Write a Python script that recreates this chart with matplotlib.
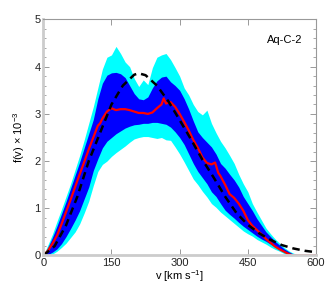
import numpy as np
import matplotlib
matplotlib.use("Agg")
import matplotlib.pyplot as plt

plt.rcParams['font.family'] = ['Liberation Sans', 'DejaVu Sans']
plt.rcParams['mathtext.fontset'] = 'custom'
plt.rcParams['mathtext.rm'] = 'Liberation Sans'
plt.rcParams['mathtext.default'] = 'rm'

# velocidad [km/s], rejilla comun para las bandas
v_band = np.arange(0, 610, 10)

# banda exterior (cian)
cyan_hi = [0.0, 0.22, 0.45, 0.72, 0.98, 1.25, 1.52, 1.82, 2.12, 2.45,
           2.80, 3.15, 3.55, 3.95, 4.20, 4.25, 4.43, 4.28, 4.10, 4.00,
           3.75, 3.58, 3.72, 3.62, 3.98, 4.20, 4.25, 4.28, 4.15, 3.98,
           3.80, 3.55, 3.40, 3.20, 3.05, 2.98, 3.08, 2.80, 2.60, 2.42,
           2.28, 2.12, 1.95, 1.72, 1.52, 1.35, 1.10, 0.92, 0.75, 0.58,
           0.46, 0.35, 0.26, 0.17, 0.10, 0.05, 0.02, 0.0, 0.0, 0.0, 0.0]
cyan_lo = [0.0, 0.0, 0.03, 0.09, 0.17, 0.26, 0.38, 0.50, 0.67, 0.90,
           1.15, 1.48, 1.78, 1.93, 2.00, 2.10, 2.18, 2.25, 2.32, 2.40,
           2.47, 2.50, 2.52, 2.52, 2.50, 2.48, 2.50, 2.45, 2.44, 2.30,
           2.15, 1.98, 1.80, 1.62, 1.50, 1.36, 1.24, 1.10, 1.02, 0.92,
           0.84, 0.76, 0.68, 0.60, 0.52, 0.46, 0.41, 0.34, 0.29, 0.24,
           0.18, 0.13, 0.09, 0.04, 0.01, 0.0, 0.0, 0.0, 0.0, 0.0, 0.0]

# banda interior (azul)
blue_hi = [0.0, 0.17, 0.38, 0.62, 0.88, 1.14, 1.42, 1.70, 1.98, 2.28,
           2.58, 2.88, 3.32, 3.65, 3.82, 3.87, 3.88, 3.85, 3.77, 3.60,
           3.43, 3.32, 3.30, 3.36, 3.55, 3.70, 3.78, 3.80, 3.68, 3.60,
           3.50, 3.32, 3.10, 2.85, 2.62, 2.50, 2.40, 2.30, 2.15, 1.95,
           1.85, 1.72, 1.60, 1.45, 1.25, 1.10, 0.95, 0.78, 0.64, 0.50,
           0.40, 0.30, 0.22, 0.14, 0.08, 0.03, 0.0, 0.0, 0.0, 0.0, 0.0]
blue_lo = [0.0, 0.02, 0.07, 0.14, 0.25, 0.40, 0.57, 0.75, 0.95, 1.20,
           1.45, 1.80, 2.05, 2.28, 2.42, 2.50, 2.58, 2.64, 2.70, 2.74,
           2.77, 2.78, 2.80, 2.80, 2.82, 2.82, 2.80, 2.78, 2.72, 2.62,
           2.50, 2.35, 2.15, 1.95, 1.78, 1.65, 1.52, 1.35, 1.25, 1.10,
           0.96, 0.87, 0.79, 0.70, 0.62, 0.55, 0.48, 0.41, 0.35, 0.30,
           0.24, 0.18, 0.13, 0.08, 0.04, 0.01, 0.0, 0.0, 0.0, 0.0, 0.0]

# mediana (roja)
v_med = [0, 10, 20, 30, 40, 50, 60, 70, 80, 90, 100, 110, 120, 125, 130,
         140, 150, 160, 170, 180, 190, 200, 210, 220, 230, 240, 250, 260,
         265, 270, 280, 290, 300, 310, 320, 330, 340, 350, 360, 370, 378,
         385, 390, 400, 410, 420, 430, 440, 450, 460, 470, 480, 490, 500,
         510, 520, 530, 540, 550, 600]
f_med = [0.0, 0.10, 0.25, 0.42, 0.66, 0.92, 1.18, 1.45, 1.72, 1.98, 2.25,
         2.50, 2.75, 2.80, 2.90, 3.05, 3.12, 3.08, 3.10, 3.10, 3.08, 3.05,
         3.02, 3.02, 3.00, 3.03, 3.12, 3.20, 3.33, 3.22, 3.25, 3.15, 3.00,
         2.83, 2.65, 2.45, 2.28, 2.08, 1.96, 1.93, 1.97, 1.75, 1.68, 1.50,
         1.30, 1.22, 1.10, 0.95, 0.75, 0.63, 0.54, 0.45, 0.35, 0.27, 0.19,
         0.13, 0.08, 0.03, 0.0, 0.0]

# modelo (linea discontinua)
v_mod = [0, 25, 50, 75, 100, 125, 150, 175, 200, 210, 225, 250, 275, 300,
         325, 350, 375, 400, 425, 450, 475, 500, 525, 550, 575, 600]
f_mod = [0.0, 0.20, 0.64, 1.25, 2.00, 2.60, 3.20, 3.60, 3.83, 3.86, 3.82,
         3.60, 3.27, 2.87, 2.46, 2.03, 1.65, 1.25, 0.90, 0.65, 0.47, 0.33,
         0.22, 0.15, 0.10, 0.07]

fig = plt.figure(figsize=(3.32, 2.95), dpi=100)
ax = fig.add_axes([0.1304, 0.1339, 0.8214, 0.8])

ax.fill_between(v_band, cyan_lo, cyan_hi, color="#00ffff", linewidth=0)
ax.fill_between(v_band, blue_lo, blue_hi, color="#0000ff", linewidth=0)
ax.plot(v_med, f_med, color="#ff0000", lw=1.6)
ax.plot(v_mod, f_mod, color="black", lw=1.8, dashes=(3, 2))

ax.set_xlim(0, 600)
ax.set_ylim(0, 5)
ax.set_xticks([0, 150, 300, 450, 600])
ax.set_yticks([0, 1, 2, 3, 4, 5])
ax.set_yticks(np.arange(0, 5.01, 0.2), minor=True)
ax.tick_params(axis="both", which="both", direction="in", top=True,
               right=True, color="#999999", labelsize=8, labelcolor="#222222")
ax.tick_params(axis="both", which="major", length=4.5, width=0.7)
ax.tick_params(axis="y", which="minor", length=2.5, width=0.6)
ax.tick_params(axis="x", pad=2)
ax.tick_params(axis="y", pad=2)

for s in ["left", "bottom"]:
    ax.spines[s].set_color("#cccccc")
    ax.spines[s].set_linewidth(2)
for s in ["top", "right"]:
    ax.spines[s].set_color("#999999")
    ax.spines[s].set_linewidth(0.8)

ax.set_xlabel("v [km s$^{-1}$]", fontsize=8, labelpad=0)
ax.set_ylabel("f(v) \u00d7 10$^{-3}$", fontsize=8, labelpad=5)
ax.text(0.95, 0.913, "Aq-C-2", transform=ax.transAxes, ha="right",
        va="center", fontsize=8)

plt.savefig("out.png", dpi=100)
